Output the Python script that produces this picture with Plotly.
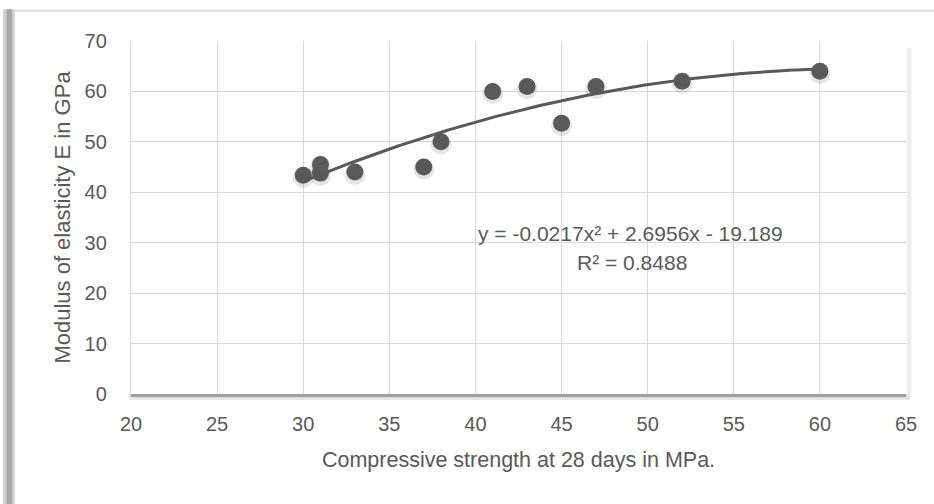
import plotly.graph_objects as go
import numpy as np

# Data
strength_x = [30, 31, 31, 33, 37, 38, 41, 43, 45, 47, 52, 60]
modulus_y = [43.4, 45.5, 43.8, 44.0, 45.0, 50.0, 60.0, 61.0, 53.7, 61.0, 62.0, 64.0]
# Trendline coefficients (as printed on the chart): a*x^2 + b*x + c
trend_coef = [-0.0217, 2.6956, -19.189]
x_ticks = [20, 25, 30, 35, 40, 45, 50, 55, 60, 65]
y_ticks = [0, 10, 20, 30, 40, 50, 60, 70]
eq_text = "y = -0.0217x² + 2.6956x - 19.189"
r2_text = "R² = 0.8488"

FONT = "Liberation Sans"
TXT = "#595959"

xs = np.linspace(min(strength_x), max(strength_x), 200)
ys = np.polyval(trend_coef, xs)

fig = go.Figure()
# marker shadow
fig.add_trace(go.Scatter(x=strength_x, y=[v - 0.45 for v in modulus_y], mode="markers",
                         marker=dict(size=21, color="rgba(0,0,0,0.10)", line=dict(width=0)),
                         hoverinfo="skip", showlegend=False))
fig.add_trace(go.Scatter(x=strength_x, y=modulus_y, mode="markers",
                         marker=dict(size=17, color="#595959", line=dict(width=0)),
                         showlegend=False))
fig.add_trace(go.Scatter(x=xs, y=ys, mode="lines",
                         line=dict(color="#595959", width=3), showlegend=False, hoverinfo="skip"))

# Equation annotations
fig.add_annotation(x=49.0, y=31.9, text=eq_text, showarrow=False,
                   font=dict(family=FONT, size=21, color=TXT))
fig.add_annotation(x=49.1, y=26.0, text=r2_text, showarrow=False,
                   font=dict(family=FONT, size=21, color=TXT))

# Outer chart frame: top line and left thick edge
fig.add_shape(type="line", xref="paper", yref="paper", x0=-0.152, x1=1.05, y0=1.086, y1=1.086,
              line=dict(color="#dcdcdc", width=2), layer="below")
fig.add_shape(type="rect", xref="paper", yref="paper", x0=-0.165, x1=-0.150, y0=-0.35, y1=1.09,
              fillcolor="#d0d0d0", line=dict(width=0), layer="below")
fig.add_shape(type="rect", xref="paper", yref="paper", x0=-0.1605, x1=-0.1535, y0=-0.35, y1=1.09,
              fillcolor="#a8a8a8", line=dict(width=0), layer="below")
# bottom axis line with shadow
fig.add_shape(type="rect", xref="paper", yref="paper", x0=-0.003, x1=1.005, y0=-0.016, y1=0.0,
              fillcolor="#e2e2e2", line=dict(width=0), layer="above")
fig.add_shape(type="line", xref="paper", yref="paper", x0=0, x1=1.0, y0=-0.004, y1=-0.004,
              line=dict(color="#a0a0a0", width=3), layer="above")
# right edge shadow
fig.add_shape(type="rect", xref="paper", yref="paper", x0=1.001, x1=1.007, y0=0, y1=0.98,
              fillcolor="#ececec", line=dict(width=0), layer="below")

fig.update_layout(
    width=934, height=504,
    margin=dict(l=131, r=28, t=41, b=110),
    paper_bgcolor="white", plot_bgcolor="white",
    font=dict(family=FONT, size=20, color=TXT),
    showlegend=False,
)
fig.update_xaxes(range=[20, 65], tickvals=x_ticks, showgrid=True, gridcolor="#d9d9d9", gridwidth=1.3,
                 zeroline=False, showline=False, ticks="outside", ticklen=12, tickcolor="rgba(0,0,0,0)",
                 tickfont=dict(family=FONT, size=20, color=TXT),
                 title=dict(text="Compressive strength at 28 days in MPa.", standoff=17,
                            font=dict(family=FONT, size=21.5, color=TXT)))
fig.update_yaxes(range=[0, 70], tickvals=y_ticks, showgrid=True, gridcolor="#d9d9d9", gridwidth=1.3,
                 zeroline=False, showline=True, linecolor="#d9d9d9", linewidth=1.3,
                 ticks="outside", ticklen=19, tickcolor="rgba(0,0,0,0)",
                 tickfont=dict(family=FONT, size=20, color=TXT),
                 title=dict(text="Modulus of elasticity E in GPa", standoff=7,
                            font=dict(family=FONT, size=22, color=TXT)))

fig.write_html("out.html", config={"displayModeBar": False},
               post_script="document.body.style.margin='0';document.body.style.overflow='hidden';")
